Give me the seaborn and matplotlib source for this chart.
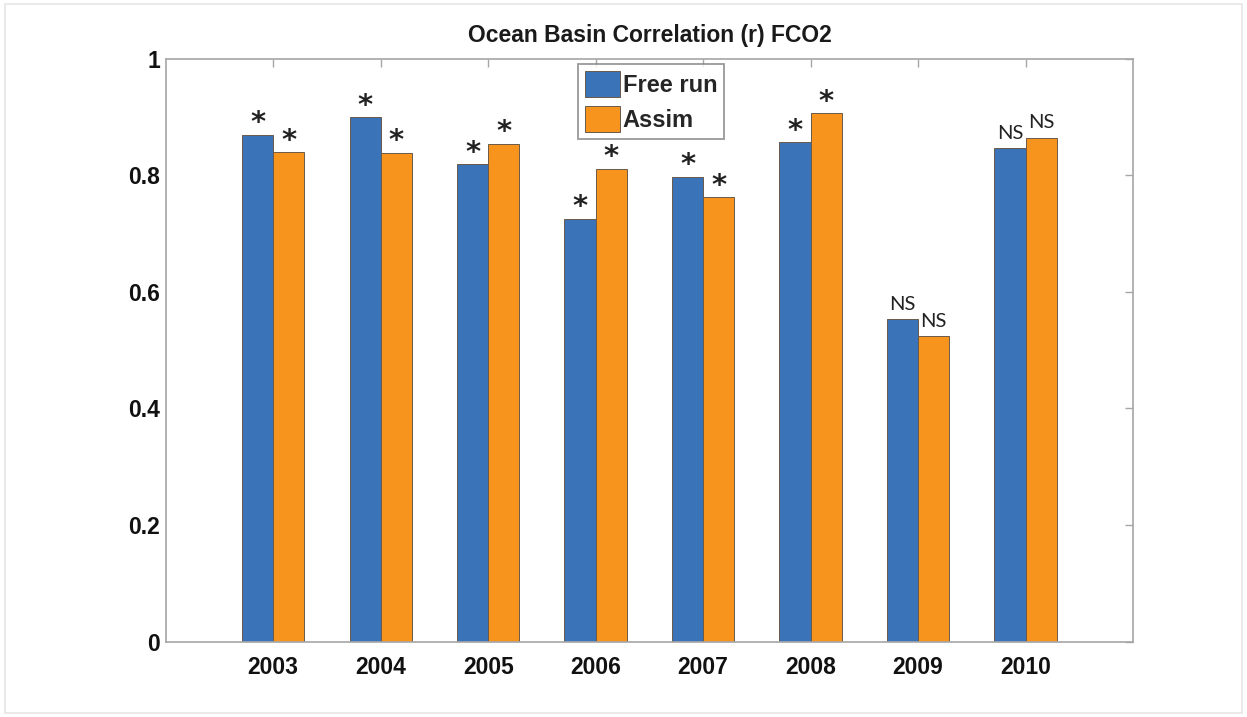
import pandas as pd
import matplotlib.pyplot as plt
import seaborn as sns
from matplotlib.patches import Rectangle

# data
years = ['2003', '2004', '2005', '2006', '2007', '2008', '2009', '2010']
free_run = [0.869, 0.899, 0.819, 0.725, 0.797, 0.856, 0.553, 0.846]
assim = [0.839, 0.838, 0.854, 0.811, 0.762, 0.906, 0.524, 0.864]
sig_free = ['*', '*', '*', '*', '*', '*', 'NS', 'NS']
sig_assim = ['*', '*', '*', '*', '*', '*', 'NS', 'NS']
series_names = ['Free run', 'Assim']

BLUE = '#3b73b9'
ORANGE = '#f7941e'


def setup_plot_style():
    sns.set_theme(style="white")
    plt.rcParams['font.family'] = ['Liberation Sans', 'DejaVu Sans']


def build_frame():
    df = pd.DataFrame({
        'year': years * 2,
        'r': free_run + assim,
        'run': [series_names[0]] * len(years) + [series_names[1]] * len(years),
    })
    return df


def create_plot():
    setup_plot_style()
    df = build_frame()

    fig = plt.figure(figsize=(12.47, 7.17), dpi=100)
    ax = fig.add_axes([0.1329, 0.1050, 0.7757, 0.8134])

    sns.barplot(data=df, x='year', y='r', hue='run', palette=[BLUE, ORANGE],
                width=0.58, saturation=1, edgecolor='#6a5a4a', linewidth=0.7,
                ax=ax)

    # significance marks above each bar
    for cont, marks in zip(ax.containers, [sig_free, sig_assim]):
        for bar, m in zip(cont, marks):
            xc = bar.get_x() + bar.get_width() / 2
            top = bar.get_height()
            if m == '*':
                ax.text(xc, top + 0.006, m, ha='center', va='baseline',
                        fontsize=21, fontweight='bold', family='DejaVu Sans',
                        color='#222222')
            else:
                ax.text(xc, top + 0.016, m, ha='center', va='baseline',
                        fontsize=14.5, family=['Lato', 'DejaVu Sans'],
                        color='#222222')

    ax.set_xlim(-1, 8)
    ax.set_ylim(0, 1)
    ax.set_yticks([0, 0.2, 0.4, 0.6, 0.8, 1])
    ax.set_yticklabels(['0', '0.2', '0.4', '0.6', '0.8', '1'])
    ax.set_xlabel('')
    ax.set_ylabel('')
    ax.set_axisbelow(True)

    for s in ax.spines.values():
        s.set_visible(True)
        s.set_color('#a6a6a6')
        s.set_linewidth(1.2)

    ax.tick_params(axis='both', direction='in', length=6, width=1,
                   color='#a6a6a6', top=True, right=True,
                   labelsize=16.5, labelcolor='#111111')
    ax.tick_params(axis='x', pad=10)
    ax.tick_params(axis='y', pad=4)
    for lab in ax.get_xticklabels() + ax.get_yticklabels():
        lab.set_fontweight('bold')

    ax.set_title('Ocean Basin Correlation (r) FCO2', fontsize=16.5,
                 fontweight='bold', color='#1a1a1a', pad=12)

    leg = ax.legend(loc='upper left', bbox_to_anchor=(0.426, 0.991),
                    frameon=True, fancybox=False, edgecolor='#7f7f7f',
                    prop={'weight': 'bold', 'size': 17},
                    handlelength=1.48, handleheight=1.3,
                    handletextpad=0.12, borderpad=0.3,
                    labelspacing=0.4, borderaxespad=0)
    leg.get_frame().set_linewidth(1.3)

    # faint outer frame like the reference image
    fig.patches.append(Rectangle((0.004, 0.006), 0.992, 0.988,
                                 transform=fig.transFigure, fill=False,
                                 edgecolor='#e6e6e6', linewidth=1.2))

    fig.savefig('out.png', dpi=100, facecolor='white')
    plt.close(fig)


if __name__ == "__main__":
    create_plot()
